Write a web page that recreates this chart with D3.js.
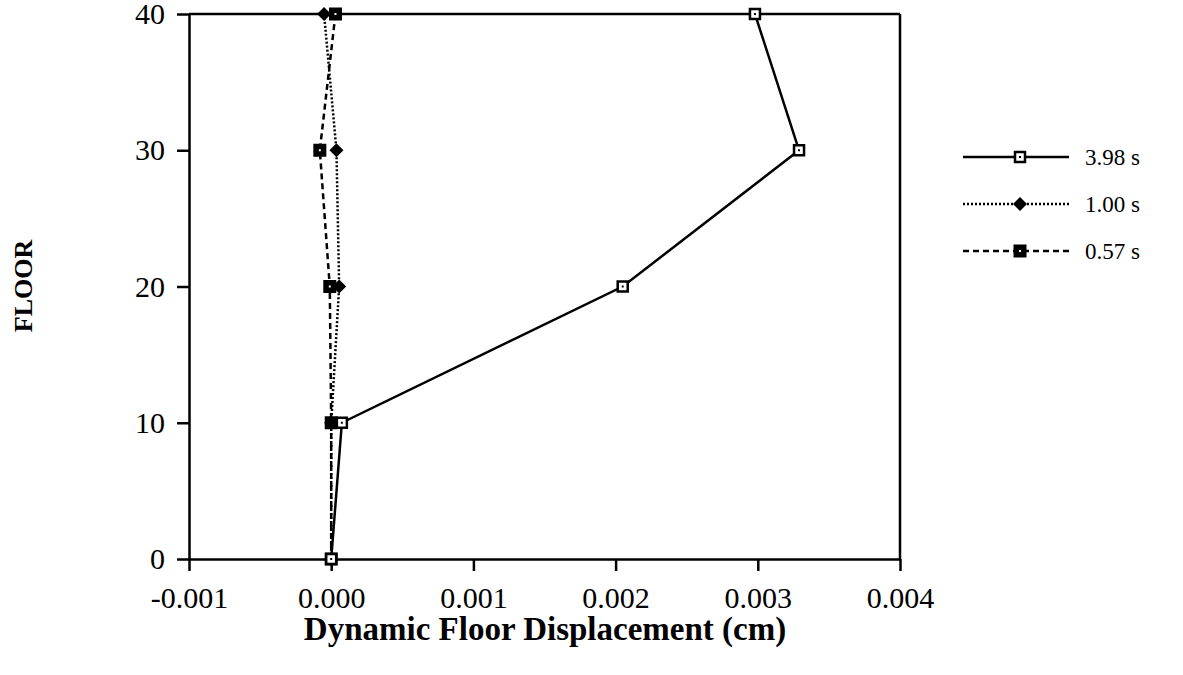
<!DOCTYPE html>
<html>
<head>
<meta charset="utf-8">
<script src="https://cdn.jsdelivr.net/npm/d3@7"></script>
<style>
  body { margin: 0; background: #fff; }
  text { font-family: "Liberation Serif", "Times New Roman", serif; fill: #000; }
</style>
</head>
<body>
<div class="chart-area"></div>
<script>
var floors = [0, 10, 20, 30, 40];
var seriesNames = ["3.98 s", "1.00 s", "0.57 s"];
var disp398 = [0.0, 0.000075, 0.00205, 0.00329, 0.00298];
var disp100 = [0.0, 0.0, 0.000056, 0.000037, -0.00005];
var disp057 = [0.0, 0.0, -0.00001, -0.00008, 0.00003];
var xTicks = [-0.001, 0.000, 0.001, 0.002, 0.003, 0.004];
var yTicks = [0, 10, 20, 30, 40];

var series = [
  { name: seriesNames[0], values: disp398, dash: null, marker: "open" },
  { name: seriesNames[1], values: disp100, dash: "2,2", marker: "diamond" },
  { name: seriesNames[2], values: disp057, dash: "6,4", marker: "filled" }
];

var chartWidth = 1183,
    chartHeight = 675,
    plotLeft = 189, plotRight = 900, plotTop = 14, plotBottom = 559;

var svg = d3.select(".chart-area")
            .append("svg")
            .attr("width", chartWidth)
            .attr("height", chartHeight);

var x = d3.scaleLinear().domain([-0.001, 0.004]).range([plotLeft, plotRight]);
var y = d3.scaleLinear().domain([0, 40]).range([plotBottom, plotTop]);

// frame: top and right
svg.append("line").attr("x1", plotLeft).attr("x2", plotRight).attr("y1", plotTop).attr("y2", plotTop)
   .attr("stroke", "#000").attr("stroke-width", 2.5);
svg.append("line").attr("x1", plotRight).attr("x2", plotRight).attr("y1", plotTop).attr("y2", plotBottom)
   .attr("stroke", "#000").attr("stroke-width", 2.5);

var fmt = d3.format(".3f");

var xAxis = svg.append("g")
   .attr("transform", "translate(0," + plotBottom + ")")
   .call(d3.axisBottom(x).tickValues(xTicks)
     .tickFormat(function(d) { return d < 0 ? "-" + fmt(-d) : fmt(d); })
     .tickSize(12).tickSizeOuter(0));

var yAxis = svg.append("g")
   .attr("transform", "translate(" + plotLeft + ",0)")
   .call(d3.axisLeft(y).tickValues(yTicks).tickSize(12).tickSizeOuter(0));

[xAxis, yAxis].forEach(function(g) {
  g.select(".domain").attr("stroke-width", 2.5);
  g.selectAll(".tick line").attr("stroke-width", 2.5);
  g.selectAll(".tick text")
   .attr("font-family", "Liberation Serif")
   .attr("font-size", 30)
   .attr("fill", "#000");
});
xAxis.selectAll(".tick text").attr("dy", "1.13em");
yAxis.selectAll(".tick text").attr("x", -24);

var line = d3.line()
   .x(function(d) { return x(d[0]); })
   .y(function(d) { return y(d[1]); });

function drawMarker(g, type, cx, cy) {
  if (type === "open") {
    g.append("rect").attr("x", cx - 5).attr("y", cy - 5).attr("width", 10).attr("height", 10)
     .attr("fill", "#fff").attr("stroke", "#000").attr("stroke-width", 2.5);
    g.append("rect").attr("x", cx - 1).attr("y", cy - 1).attr("width", 2).attr("height", 2).attr("fill", "#000");
  } else if (type === "diamond") {
    g.append("path")
     .attr("d", "M" + cx + "," + (cy - 7) + "L" + (cx + 7) + "," + cy + "L" + cx + "," + (cy + 7) + "L" + (cx - 7) + "," + cy + "Z")
     .attr("fill", "#000");
  } else {
    g.append("rect").attr("x", cx - 6.5).attr("y", cy - 6.5).attr("width", 13).attr("height", 13).attr("fill", "#000");
    g.append("rect").attr("x", cx - 1).attr("y", cy - 1).attr("width", 2).attr("height", 2).attr("fill", "#fff");
  }
}

// draw back to front so 3.98 s sits on top
series.slice().reverse().forEach(function(s) {
  var pts = floors.map(function(f, i) { return [s.values[i], f]; });
  svg.append("path")
     .datum(pts)
     .attr("d", line)
     .attr("fill", "none")
     .attr("stroke", "#000")
     .attr("stroke-width", 2.5)
     .attr("stroke-dasharray", s.dash);
  var g = svg.append("g");
  pts.forEach(function(p) { drawMarker(g, s.marker, x(p[0]), y(p[1])); });
});

// legend
var legend = svg.append("g");
series.forEach(function(s, i) {
  var ly = 157 + i * 47;
  legend.append("line")
     .attr("x1", 963).attr("x2", 1069).attr("y1", ly).attr("y2", ly)
     .attr("stroke", "#000").attr("stroke-width", 2.5)
     .attr("stroke-dasharray", s.dash);
  drawMarker(legend, s.marker, 1020, ly);
  legend.append("text")
     .attr("x", 1085).attr("y", ly + 8)
     .attr("font-size", 23)
     .text(s.name);
});

// axis titles
svg.append("text")
   .attr("x", 545).attr("y", 640)
   .attr("text-anchor", "middle")
   .attr("font-size", 33)
   .attr("font-weight", "bold")
   .text("Dynamic Floor Displacement (cm)");

svg.append("text")
   .attr("transform", "translate(32,286) rotate(-90)")
   .attr("text-anchor", "middle")
   .attr("font-size", 26)
   .attr("font-weight", "bold")
   .text("FLOOR");
</script>
</body>
</html>
